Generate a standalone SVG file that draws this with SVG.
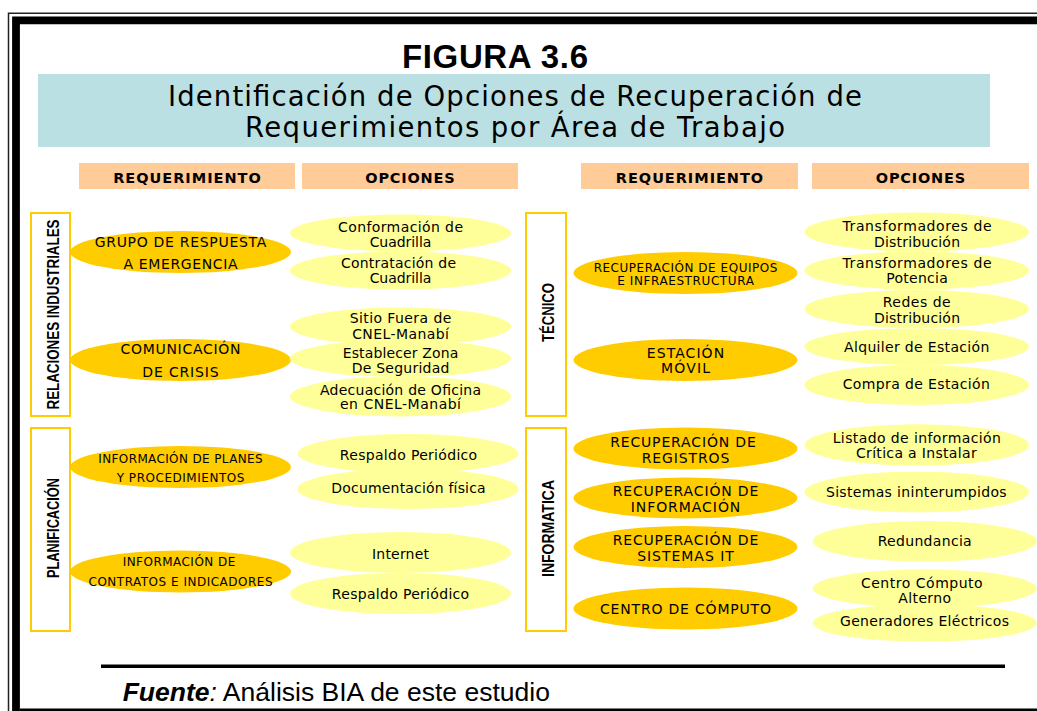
<svg xmlns="http://www.w3.org/2000/svg" width="1037" height="711" viewBox="0 0 1037 711">
<style>
.t{font-family:"DejaVu Sans",Verdana,sans-serif;fill:#000;text-anchor:middle}
.rq{font-size:14px}
.rs{font-size:12px}
.op{font-size:14px}
.hd{font-size:14.5px;font-weight:bold}
.sd{font-family:"Liberation Sans",Arial,sans-serif;font-weight:bold;font-size:16px;text-anchor:middle;fill:#000}
.gold{fill:#FFCC00}
.pale{fill:#FFFF99}
.hbox{fill:#FFCC99}
.sbox{fill:#fff;stroke:#FFCC00;stroke-width:2}
</style>
<rect width="1037" height="711" fill="#fff"/>
<!-- frame -->
<path d="M8.5,711 V13.2 H1037" fill="none" stroke="#222" stroke-width="1.5"/>
<path d="M16,711 V20.4 H1037" fill="none" stroke="#000" stroke-width="7.8"/>
<rect x="20" y="708.5" width="1017" height="2.5" fill="#000"/>

<text x="495" y="68" font-family="Liberation Sans,Arial,sans-serif" font-weight="bold" font-size="33" text-anchor="middle" textLength="186">FIGURA 3.6</text>
<rect x="38" y="74" width="952" height="73" fill="#BAE0E3"/>
<text class="t" x="515" y="106" font-size="27.5" textLength="694">Identificación de Opciones de Recuperación de</text>
<text class="t" x="515" y="137" font-size="27.5" textLength="540">Requerimientos por Área de Trabajo</text>

<g id="headers">
<rect class="hbox" x="79" y="163" width="216" height="26"/>
<text class="t hd" x="187" y="182.5" textLength="147.7">REQUERIMIENTO</text>
<rect class="hbox" x="302" y="163" width="216" height="26"/>
<text class="t hd" x="410" y="182.5" textLength="89.3">OPCIONES</text>
<rect class="hbox" x="581" y="163" width="217" height="26"/>
<text class="t hd" x="689.5" y="182.5" textLength="147.3">REQUERIMIENTO</text>
<rect class="hbox" x="812" y="163" width="217" height="26"/>
<text class="t hd" x="920.5" y="182.5" textLength="89.3">OPCIONES</text>
</g>

<g id="area-relaciones">
<rect class="sbox" x="31" y="213" width="39" height="203"/>
<text class="sd" transform="translate(51,314.5) rotate(-90)" y="8" textLength="190" lengthAdjust="spacingAndGlyphs">RELACIONES INDUSTRIALES</text>
</g>
<g id="area-planificacion">
<rect class="sbox" x="31" y="428" width="39" height="203"/>
<text class="sd" transform="translate(51,528) rotate(-90)" y="8" textLength="100" lengthAdjust="spacingAndGlyphs">PLANIFICACIÓN</text>
</g>
<g id="area-tecnico">
<rect class="sbox" x="526" y="213" width="40" height="203"/>
<text class="sd" transform="translate(546,312.5) rotate(-90)" y="7.5" textLength="59" lengthAdjust="spacingAndGlyphs">TÉCNICO</text>
</g>
<g id="area-informatica">
<rect class="sbox" x="526" y="428" width="40" height="203"/>
<text class="sd" transform="translate(546,528.5) rotate(-90)" y="7.5" textLength="97" lengthAdjust="spacingAndGlyphs">INFORMATICA</text>
</g>

<!-- left requirements -->
<g id="req-grupo">
<ellipse class="gold" cx="180.5" cy="252" rx="110.5" ry="21"/>
<text class="t rq" x="180.5" y="246.7" textLength="171.7">GRUPO DE RESPUESTA</text>
<text class="t rq" x="180.5" y="269" textLength="114">A EMERGENCIA</text>
</g>
<g id="req-comunicacion">
<ellipse class="gold" cx="180.5" cy="360" rx="110.5" ry="21"/>
<text class="t rq" x="180.5" y="354" textLength="120">COMUNICACIÓN</text>
<text class="t rq" x="180.5" y="376.7" textLength="76.3">DE CRISIS</text>
</g>
<g id="req-planes">
<ellipse class="gold" cx="180.5" cy="467" rx="110.5" ry="21"/>
<text class="t rs" x="180.5" y="462.7" textLength="164.3">INFORMACIÓN DE PLANES</text>
<text class="t rs" x="180.5" y="481.7" textLength="127.7">Y PROCEDIMIENTOS</text>
</g>
<g id="req-contratos">
<ellipse class="gold" cx="180.5" cy="571.5" rx="110.5" ry="21"/>
<text class="t rs" x="179" y="566" textLength="112.7">INFORMACIÓN DE</text>
<text class="t rs" x="180.5" y="586" textLength="184">CONTRATOS E INDICADORES</text>
</g>

<!-- left options -->
<g id="opt-conformacion">
<ellipse class="pale" cx="400.5" cy="233" rx="110.5" ry="18.5"/>
<text class="t op" x="400.5" y="231.7" textLength="125">Conformación de</text>
<text class="t op" x="400.5" y="246.7" textLength="61.7">Cuadrilla</text>
</g>
<g id="opt-contratacion">
<ellipse class="pale" cx="400.5" cy="270.5" rx="110.5" ry="19"/>
<text class="t op" x="398.5" y="267.7" textLength="115">Contratación de</text>
<text class="t op" x="400.5" y="283.3" textLength="61.7">Cuadrilla</text>
</g>
<g id="opt-sitio">
<ellipse class="pale" cx="400.5" cy="326.5" rx="110.5" ry="19"/>
<text class="t op" x="400.5" y="323.3" textLength="101.7">Sitio Fuera de</text>
<text class="t op" x="400.5" y="339.3" textLength="96.7">CNEL-Manabí</text>
</g>
<g id="opt-zona">
<ellipse class="pale" cx="400.5" cy="358.5" rx="110.5" ry="18.5"/>
<text class="t op" x="400.5" y="358.3" textLength="115.7">Establecer Zona</text>
<text class="t op" x="400.5" y="373.3" textLength="97.7">De Seguridad</text>
</g>
<g id="opt-adecuacion">
<ellipse class="pale" cx="400.5" cy="396.5" rx="110.5" ry="20"/>
<text class="t op" x="400.5" y="395" textLength="161">Adecuación de Oficina</text>
<text class="t op" x="400.5" y="409.3" textLength="121">en CNEL-Manabí</text>
</g>
<g id="opt-respaldo1">
<ellipse class="pale" cx="408" cy="453.5" rx="110.5" ry="19.5"/>
<text class="t op" x="408.5" y="460" textLength="137.3">Respaldo Periódico</text>
</g>
<g id="opt-documentacion">
<ellipse class="pale" cx="408" cy="489" rx="110.5" ry="20"/>
<text class="t op" x="408.5" y="493.3" textLength="154.3">Documentación física</text>
</g>
<g id="opt-internet">
<ellipse class="pale" cx="400.5" cy="552.5" rx="110.5" ry="20.5"/>
<text class="t op" x="400.5" y="559.3" textLength="57">Internet</text>
</g>
<g id="opt-respaldo2">
<ellipse class="pale" cx="400.5" cy="593.5" rx="110.5" ry="20.5"/>
<text class="t op" x="400.5" y="599" textLength="137.3">Respaldo Periódico</text>
</g>

<!-- right requirements -->
<g id="req-equipos">
<ellipse class="gold" cx="685.5" cy="273" rx="112" ry="21"/>
<text class="t rs" x="685.5" y="271.7" textLength="183.7">RECUPERACIÓN DE EQUIPOS</text>
<text class="t rs" x="685.5" y="284.5" textLength="136.7">E INFRAESTRUCTURA</text>
</g>
<g id="req-estacion">
<ellipse class="gold" cx="685.5" cy="360" rx="112" ry="21"/>
<text class="t rq" x="685.5" y="358.3" textLength="77.3">ESTACIÓN</text>
<text class="t rq" x="685.5" y="373.3" textLength="49">MÓVIL</text>
</g>
<g id="req-registros">
<ellipse class="gold" cx="685.5" cy="448.5" rx="112" ry="21"/>
<text class="t rq" x="683" y="446.7" textLength="145.7">RECUPERACIÓN DE</text>
<text class="t rq" x="685.5" y="462.7" textLength="87.7">REGISTROS</text>
</g>
<g id="req-informacion">
<ellipse class="gold" cx="685.5" cy="498" rx="112" ry="20.5"/>
<text class="t rq" x="685.5" y="496" textLength="145.7">RECUPERACIÓN DE</text>
<text class="t rq" x="685.5" y="511.7" textLength="109.7">INFORMACIÓN</text>
</g>
<g id="req-sistemas">
<ellipse class="gold" cx="685.5" cy="547" rx="112" ry="21"/>
<text class="t rq" x="685.5" y="545" textLength="145.7">RECUPERACIÓN DE</text>
<text class="t rq" x="685.5" y="561" textLength="96.7">SISTEMAS IT</text>
</g>
<g id="req-centro">
<ellipse class="gold" cx="685.5" cy="608.5" rx="112" ry="21"/>
<text class="t rq" x="685.5" y="614.3" textLength="171">CENTRO DE CÓMPUTO</text>
</g>

<!-- right options -->
<g id="opt-trans-dist">
<ellipse class="pale" cx="916.7" cy="232" rx="112.3" ry="19.5"/>
<text class="t op" x="917" y="231" textLength="149">Transformadores de</text>
<text class="t op" x="917" y="246.7" textLength="86">Distribución</text>
</g>
<g id="opt-trans-pot">
<ellipse class="pale" cx="916.7" cy="270.5" rx="112.3" ry="19"/>
<text class="t op" x="917" y="268.3" textLength="149">Transformadores de</text>
<text class="t op" x="917" y="283.3" textLength="61.7">Potencia</text>
</g>
<g id="opt-redes">
<ellipse class="pale" cx="916.7" cy="309" rx="112.3" ry="19"/>
<text class="t op" x="916.7" y="306.7" textLength="68">Redes de</text>
<text class="t op" x="917" y="322.7" textLength="86">Distribución</text>
</g>
<g id="opt-alquiler">
<ellipse class="pale" cx="916.7" cy="346.7" rx="112.3" ry="18.5"/>
<text class="t op" x="916.7" y="352.3" textLength="145.3">Alquiler de Estación</text>
</g>
<g id="opt-compra">
<ellipse class="pale" cx="916.7" cy="385" rx="112.3" ry="20"/>
<text class="t op" x="916.3" y="389.3" textLength="147.3">Compra de Estación</text>
</g>
<g id="opt-listado">
<ellipse class="pale" cx="916.7" cy="445" rx="112.3" ry="20.7"/>
<text class="t op" x="916.8" y="443.3" textLength="168.3">Listado de información</text>
<text class="t op" x="916.3" y="458.3" textLength="120.7">Crítica a Instalar</text>
</g>
<g id="opt-sistemas">
<ellipse class="pale" cx="916.7" cy="492" rx="112.3" ry="20.3"/>
<text class="t op" x="916.3" y="497.3" textLength="180.7">Sistemas ininterumpidos</text>
</g>
<g id="opt-redundancia">
<ellipse class="pale" cx="924.7" cy="541.3" rx="112" ry="20.3"/>
<text class="t op" x="924.7" y="546" textLength="94">Redundancia</text>
</g>
<g id="opt-centro-alterno">
<ellipse class="pale" cx="924.7" cy="588.5" rx="112" ry="19.2"/>
<text class="t op" x="921.8" y="588.3" textLength="121.7">Centro Cómputo</text>
<text class="t op" x="924.7" y="603.3" textLength="52.7">Alterno</text>
</g>
<g id="opt-generadores">
<ellipse class="pale" cx="924.7" cy="623" rx="112" ry="18.7"/>
<text class="t op" x="924.5" y="626" textLength="169">Generadores Eléctricos</text>
</g>

<g id="connectors"/>

<rect x="101" y="664.5" width="904" height="3.5" fill="#000"/>
<text x="122.7" y="701" font-family="Liberation Sans,Arial,sans-serif" font-size="26.5" fill="#000"><tspan font-weight="bold" font-style="italic">Fuente</tspan><tspan font-style="italic">:</tspan> Análisis BIA de este estudio</text>
</svg>
